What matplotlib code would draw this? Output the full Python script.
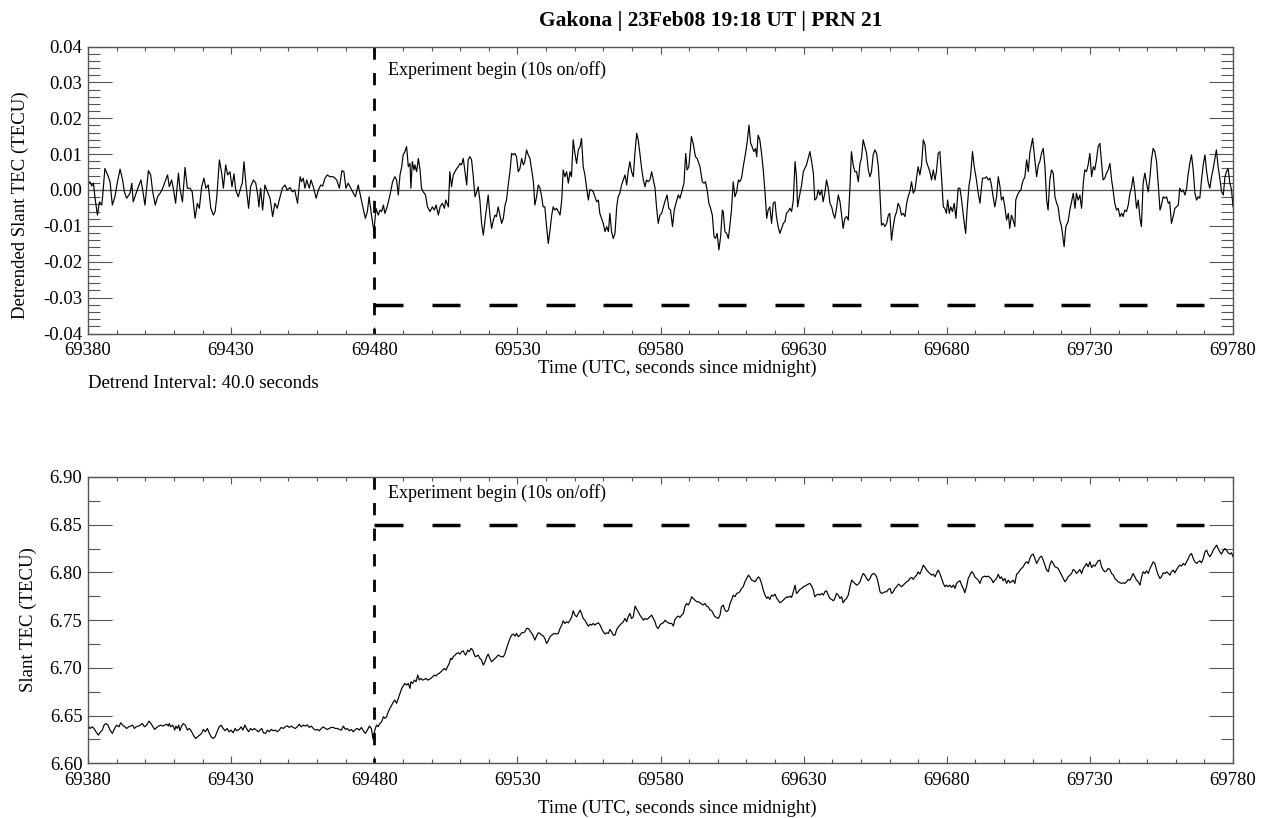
import numpy as np
import matplotlib
matplotlib.use("Agg")
from matplotlib import pyplot as plt
from matplotlib.ticker import MultipleLocator, FormatStrFormatter

plt.rcParams['font.family'] = ['Liberation Serif', 'DejaVu Serif']
plt.rcParams['axes.unicode_minus'] = False

# detrended slant TEC (time s since midnight, TECU), before the heater starts
detrend_pre = [
    (69380.0, 0.0019), (69380.7, 0.0023), (69381.3, 0.0011), (69381.9, 0.0019), (69382.4, -0.0019),
    (69383.3, -0.0070), (69384.0, -0.0033), (69384.8, -0.0042), (69385.1, -0.0019), (69385.9, 0.0060),
    (69387.1, 0.0037), (69387.7, 0.0023), (69388.5, -0.0042), (69389.4, -0.0019), (69390.2, 0.0019),
    (69391.2, 0.0058), (69392.1, 0.0028), (69392.7, -0.0005), (69393.5, -0.0023), (69394.7, -0.0009),
    (69395.3, 0.0019), (69395.8, -0.0033), (69396.8, -0.0009), (69397.6, 0.0009), (69398.5, 0.0028),
    (69399.1, 0.0000), (69399.9, -0.0042), (69401.1, 0.0054), (69401.9, 0.0042), (69402.6, -0.0005),
    (69403.5, -0.0042), (69404.3, -0.0019), (69405.2, -0.0009), (69406.1, 0.0005), (69406.9, 0.0023),
    (69407.8, 0.0042), (69408.4, 0.0009), (69409.2, 0.0028), (69409.8, 0.0005), (69410.6, -0.0037),
    (69411.6, 0.0047), (69412.1, 0.0005), (69413.0, -0.0033), (69413.9, 0.0063), (69414.7, 0.0005),
    (69415.6, 0.0005), (69416.4, -0.0005), (69417.4, -0.0079), (69418.2, -0.0037), (69418.9, -0.0051),
    (69419.7, 0.0009), (69420.5, 0.0033), (69421.2, 0.0005), (69422.0, 0.0014), (69422.9, -0.0051),
    (69423.8, -0.0070), (69424.4, -0.0060), (69425.0, -0.0019), (69425.9, 0.0084), (69426.7, 0.0047),
    (69427.3, 0.0005), (69428.1, 0.0070), (69428.8, 0.0042), (69429.6, 0.0051), (69430.3, 0.0009),
    (69431.0, 0.0045), (69431.6, 0.0000), (69432.5, -0.0019), (69433.3, 0.0005), (69433.9, 0.0019),
    (69434.5, 0.0079), (69435.2, 0.0014), (69436.1, -0.0051), (69436.8, 0.0009), (69437.8, 0.0028),
    (69438.6, 0.0019), (69439.3, -0.0014), (69439.7, -0.0047), (69440.3, 0.0005), (69441.0, -0.0056),
    (69441.8, 0.0014), (69442.7, -0.0005), (69443.6, -0.0023), (69444.5, -0.0074), (69445.3, -0.0037),
    (69446.1, -0.0051), (69447.1, -0.0019), (69447.9, 0.0005), (69448.8, 0.0014), (69449.6, 0.0000),
    (69450.6, 0.0007), (69451.4, -0.0005), (69452.2, 0.0000), (69453.2, -0.0037), (69454.1, 0.0037),
    (69454.6, 0.0023), (69455.2, 0.0033), (69455.8, 0.0005), (69456.4, 0.0028), (69457.3, 0.0005),
    (69457.9, 0.0028), (69458.7, 0.0009), (69459.7, -0.0023), (69460.5, 0.0000), (69461.3, 0.0014),
    (69462.0, 0.0011), (69462.8, 0.0033), (69463.6, 0.0042), (69464.5, 0.0037), (69465.7, 0.0037),
    (69466.9, 0.0028), (69467.8, 0.0005), (69468.7, 0.0054), (69469.4, 0.0051), (69470.1, 0.0005),
    (69470.9, 0.0019), (69471.8, 0.0005), (69472.7, -0.0009), (69473.4, -0.0019), (69474.4, 0.0014),
    (69475.0, -0.0009), (69476.0, -0.0047), (69476.9, -0.0079), (69477.6, -0.0060), (69478.2, -0.0019),
    (69479.1, -0.0074), (69479.9, -0.0116), (69480.6, -0.0051), (69481.4, -0.0070), (69482.0, -0.0056),
]

# detrended slant TEC during the 10 s on / 10 s off heating
detrend_on = [
    (69482.6, -0.0060), (69483.2, -0.0042), (69483.7, -0.0065), (69484.5, -0.0047), (69485.5, -0.0014),
    (69486.4, 0.0023), (69487.2, 0.0037), (69487.8, 0.0028), (69488.4, -0.0014), (69489.0, 0.0042),
    (69489.6, 0.0065), (69490.1, 0.0098), (69490.7, 0.0107), (69491.3, 0.0121), (69491.9, 0.0065),
    (69492.5, 0.0074), (69492.8, 0.0005), (69493.3, 0.0079), (69493.9, 0.0056), (69494.2, 0.0070),
    (69494.8, 0.0051), (69495.4, 0.0088), (69496.0, 0.0056), (69496.5, 0.0005), (69497.1, -0.0005),
    (69497.9, -0.0014), (69498.6, -0.0047), (69499.5, -0.0060), (69500.3, -0.0047), (69501.0, -0.0056),
    (69501.6, -0.0042), (69502.4, -0.0070), (69503.0, -0.0047), (69503.8, -0.0037), (69504.5, -0.0051),
    (69505.0, -0.0028), (69505.9, -0.0047), (69506.4, 0.0051), (69507.0, 0.0009), (69507.6, 0.0042),
    (69508.2, 0.0051), (69508.8, 0.0060), (69509.4, 0.0065), (69509.9, 0.0074), (69510.5, 0.0070),
    (69511.1, 0.0088), (69511.7, 0.0051), (69512.3, 0.0014), (69512.8, 0.0084), (69513.4, 0.0093),
    (69514.0, 0.0084), (69514.6, 0.0037), (69515.2, -0.0019), (69515.8, -0.0005), (69516.3, 0.0009),
    (69516.9, -0.0028), (69517.5, -0.0093), (69518.1, -0.0126), (69518.7, -0.0084), (69519.3, -0.0047),
    (69519.8, -0.0014), (69520.4, -0.0070), (69521.0, -0.0107), (69521.6, -0.0084), (69522.2, -0.0070),
    (69522.7, -0.0074), (69523.3, -0.0047), (69523.9, -0.0070), (69524.5, -0.0093), (69525.1, -0.0079),
    (69525.7, -0.0042), (69526.2, -0.0028), (69526.8, 0.0014), (69527.4, 0.0051), (69528.0, 0.0102),
    (69528.6, 0.0098), (69529.1, 0.0102), (69529.7, 0.0093), (69530.3, 0.0051), (69530.9, 0.0060),
    (69531.5, 0.0088), (69532.1, 0.0070), (69532.6, 0.0079), (69533.2, 0.0112), (69533.8, 0.0098),
    (69534.4, 0.0088), (69535.0, 0.0056), (69535.6, 0.0023), (69536.1, -0.0042), (69536.7, -0.0019),
    (69537.3, 0.0014), (69537.9, 0.0005), (69538.5, -0.0019), (69539.0, -0.0047), (69539.6, -0.0047),
    (69540.2, -0.0102), (69540.8, -0.0149), (69541.4, -0.0112), (69542.0, -0.0070), (69542.5, -0.0047),
    (69543.1, -0.0056), (69543.7, -0.0051), (69544.3, -0.0060), (69544.9, -0.0070), (69545.5, -0.0028),
    (69546.0, 0.0056), (69546.6, 0.0037), (69547.2, 0.0051), (69547.8, 0.0019), (69548.4, 0.0051),
    (69548.9, 0.0037), (69549.5, 0.0140), (69550.1, 0.0102), (69550.7, 0.0074), (69551.3, 0.0112),
    (69551.9, 0.0121), (69552.4, 0.0144), (69553.0, 0.0065), (69553.6, 0.0042), (69554.2, 0.0005),
    (69554.8, -0.0028), (69555.3, 0.0000), (69555.9, 0.0000), (69556.5, -0.0005), (69557.1, -0.0019),
    (69557.7, -0.0033), (69558.3, -0.0028), (69558.8, -0.0065), (69559.4, -0.0079), (69560.0, -0.0093),
    (69560.6, -0.0116), (69561.2, -0.0102), (69561.8, -0.0116), (69562.3, -0.0065), (69562.9, -0.0116),
    (69563.5, -0.0135), (69564.1, -0.0121), (69564.7, -0.0047), (69565.2, -0.0019), (69565.8, -0.0009),
    (69566.4, 0.0014), (69567.0, 0.0028), (69567.6, 0.0042), (69568.2, 0.0014), (69568.7, 0.0051),
    (69569.3, 0.0079), (69569.9, 0.0051), (69570.5, 0.0037), (69571.1, 0.0107), (69571.7, 0.0158),
    (69572.2, 0.0140), (69572.8, 0.0102), (69573.4, 0.0060), (69574.0, 0.0028), (69574.6, 0.0009),
    (69575.1, 0.0028), (69575.7, 0.0023), (69576.3, 0.0028), (69576.9, 0.0051), (69577.5, 0.0028),
    (69578.1, 0.0005), (69578.6, -0.0047), (69579.2, -0.0093), (69579.8, -0.0070), (69580.4, -0.0065),
    (69581.0, -0.0047), (69581.5, -0.0033), (69582.3, -0.0014), (69582.9, -0.0051), (69583.5, -0.0056),
    (69584.2, -0.0102), (69584.8, -0.0056), (69585.4, -0.0037), (69586.2, -0.0014), (69586.8, -0.0023),
    (69587.6, 0.0000), (69588.2, 0.0019), (69588.8, 0.0102), (69589.3, 0.0056), (69589.9, 0.0065),
    (69590.8, 0.0149), (69591.4, 0.0130), (69592.2, 0.0093), (69592.8, 0.0088), (69593.8, 0.0065),
    (69594.6, 0.0023), (69595.2, 0.0019), (69595.7, 0.0023), (69596.3, 0.0000), (69596.9, -0.0037),
    (69597.5, -0.0051), (69598.1, -0.0070), (69598.7, -0.0130), (69599.2, -0.0135), (69599.8, -0.0121),
    (69600.4, -0.0167), (69601.0, -0.0130), (69601.6, -0.0056), (69601.9, -0.0060), (69602.5, -0.0116),
    (69603.1, -0.0121), (69603.7, -0.0135), (69604.2, -0.0102), (69604.8, -0.0056), (69605.4, 0.0023),
    (69606.0, -0.0019), (69606.6, -0.0005), (69607.2, 0.0028), (69607.7, 0.0023), (69608.3, 0.0033),
    (69608.9, 0.0065), (69609.7, 0.0102), (69610.3, 0.0135), (69610.9, 0.0181), (69611.5, 0.0130),
    (69612.0, 0.0121), (69612.6, 0.0107), (69613.2, 0.0116), (69613.6, 0.0093), (69614.1, 0.0153),
    (69614.7, 0.0140), (69615.3, 0.0102), (69615.9, 0.0056), (69616.5, -0.0005), (69617.1, -0.0079),
    (69617.6, -0.0056), (69618.2, -0.0047), (69618.8, -0.0093), (69619.4, -0.0037), (69620.0, -0.0033),
    (69620.5, -0.0074), (69621.1, -0.0102), (69621.7, -0.0121), (69622.3, -0.0107), (69622.9, -0.0093),
    (69623.5, -0.0088), (69624.0, -0.0065), (69624.6, -0.0060), (69625.2, -0.0051), (69625.8, -0.0060),
    (69626.4, -0.0028), (69627.0, 0.0079), (69627.5, 0.0037), (69627.9, -0.0047), (69628.5, -0.0019),
    (69629.3, 0.0014), (69629.9, 0.0051), (69630.4, 0.0060), (69631.0, 0.0070), (69631.6, 0.0088),
    (69632.2, 0.0107), (69632.8, 0.0079), (69633.4, 0.0047), (69633.9, -0.0028), (69634.5, -0.0023),
    (69635.1, 0.0000), (69635.7, -0.0014), (69636.3, 0.0000), (69636.8, -0.0033), (69637.4, -0.0009),
    (69638.0, 0.0028), (69638.6, 0.0005), (69639.2, -0.0037), (69639.8, -0.0047), (69640.3, -0.0065),
    (69640.9, -0.0079), (69641.5, -0.0051), (69642.1, -0.0014), (69642.7, -0.0033), (69643.2, -0.0065),
    (69643.8, -0.0107), (69644.4, -0.0079), (69645.0, -0.0074), (69645.6, -0.0084), (69646.2, 0.0009),
    (69646.7, 0.0107), (69647.3, 0.0070), (69647.9, 0.0051), (69648.5, 0.0051), (69649.1, 0.0023),
    (69649.7, 0.0074), (69650.2, 0.0088), (69650.8, 0.0140), (69651.4, 0.0121), (69652.0, 0.0102),
    (69652.6, 0.0056), (69653.2, 0.0037), (69653.7, 0.0051), (69654.3, 0.0098), (69654.9, 0.0112),
    (69655.5, 0.0102), (69656.1, 0.0065), (69656.6, 0.0000), (69657.2, -0.0098), (69657.8, -0.0093),
    (69658.4, -0.0102), (69659.0, -0.0093), (69659.6, -0.0070), (69660.1, -0.0065), (69660.7, -0.0140),
    (69661.3, -0.0102), (69661.9, -0.0074), (69662.5, -0.0060), (69663.0, -0.0037), (69663.6, -0.0047),
    (69664.2, -0.0070), (69664.8, -0.0065), (69665.4, -0.0074), (69666.0, -0.0037), (69666.5, -0.0019),
    (69667.1, -0.0005), (69667.7, 0.0023), (69668.3, -0.0009), (69668.9, 0.0000), (69669.5, 0.0037),
    (69670.0, 0.0065), (69670.6, 0.0042), (69671.2, 0.0070), (69671.8, 0.0140), (69672.4, 0.0126),
    (69672.9, 0.0079), (69673.5, 0.0065), (69674.1, 0.0051), (69674.7, 0.0028), (69675.3, 0.0056),
    (69675.9, 0.0028), (69676.4, 0.0051), (69677.0, 0.0102), (69677.6, 0.0107), (69678.2, 0.0033),
    (69678.8, -0.0047), (69679.3, -0.0051), (69679.9, -0.0065), (69680.3, -0.0028), (69680.9, -0.0065),
    (69681.4, -0.0047), (69682.0, -0.0060), (69682.6, -0.0037), (69683.2, -0.0079), (69684.0, 0.0005),
    (69684.6, 0.0005), (69685.2, -0.0028), (69685.7, -0.0065), (69686.6, -0.0121), (69687.1, -0.0056),
    (69687.8, 0.0014), (69688.3, 0.0037), (69689.0, 0.0107), (69689.6, 0.0065), (69690.2, 0.0037),
    (69691.0, -0.0009), (69691.6, -0.0037), (69692.1, 0.0005), (69692.5, 0.0033), (69693.3, 0.0033),
    (69693.9, 0.0037), (69694.5, 0.0028), (69695.1, 0.0033), (69695.6, 0.0014), (69696.2, -0.0019),
    (69696.8, -0.0047), (69697.4, -0.0019), (69698.0, 0.0037), (69698.6, 0.0009), (69699.1, -0.0028),
    (69699.7, -0.0019), (69700.3, -0.0047), (69700.9, -0.0084), (69701.5, -0.0065), (69702.0, -0.0107),
    (69702.6, -0.0070), (69703.2, -0.0084), (69703.8, -0.0102), (69704.1, -0.0028), (69704.7, -0.0014),
    (69705.3, -0.0005), (69705.9, 0.0000), (69706.5, 0.0023), (69707.3, 0.0037), (69707.9, 0.0084),
    (69708.5, 0.0051), (69709.0, 0.0102), (69710.0, 0.0144), (69710.8, 0.0084), (69711.4, 0.0037),
    (69712.0, 0.0070), (69712.5, 0.0079), (69713.1, 0.0102), (69713.7, 0.0116), (69714.3, 0.0065),
    (69714.9, -0.0028), (69715.4, -0.0056), (69716.0, 0.0028), (69716.6, 0.0056), (69717.2, 0.0047),
    (69717.8, -0.0019), (69718.4, -0.0037), (69718.9, -0.0047), (69719.5, -0.0084), (69720.1, -0.0102),
    (69720.7, -0.0140), (69721.0, -0.0158), (69721.6, -0.0102), (69722.4, -0.0088), (69723.0, -0.0056),
    (69723.6, -0.0033), (69724.2, -0.0009), (69724.8, -0.0051), (69725.3, -0.0009), (69725.9, -0.0028),
    (69726.5, -0.0014), (69727.1, -0.0051), (69727.7, 0.0019), (69728.2, 0.0056), (69728.8, 0.0051),
    (69729.4, 0.0070), (69730.0, 0.0102), (69730.6, 0.0037), (69731.2, 0.0065), (69731.7, 0.0056),
    (69732.3, 0.0084), (69732.9, 0.0121), (69733.5, 0.0130), (69734.1, 0.0074), (69734.6, 0.0028),
    (69735.2, 0.0033), (69735.8, 0.0047), (69736.4, 0.0056), (69737.0, 0.0074), (69737.6, 0.0028),
    (69738.1, 0.0000), (69738.7, -0.0037), (69739.3, -0.0056), (69739.9, -0.0051), (69740.5, -0.0074),
    (69741.1, -0.0065), (69741.6, -0.0074), (69742.2, -0.0056), (69742.8, -0.0060), (69743.4, -0.0042),
    (69744.0, -0.0009), (69744.6, 0.0009), (69745.1, 0.0037), (69745.7, 0.0000), (69746.3, -0.0051),
    (69746.9, -0.0028), (69747.5, -0.0079), (69748.0, -0.0102), (69748.6, 0.0019), (69749.2, 0.0047),
    (69749.8, 0.0019), (69750.4, -0.0005), (69751.0, 0.0037), (69751.5, 0.0084), (69752.1, 0.0116),
    (69752.7, 0.0107), (69753.3, 0.0079), (69753.9, 0.0014), (69754.5, -0.0056), (69755.0, -0.0042),
    (69755.6, -0.0019), (69756.2, -0.0023), (69756.8, -0.0019), (69757.4, -0.0037), (69757.9, -0.0033),
    (69758.5, -0.0093), (69759.1, -0.0074), (69759.7, -0.0051), (69760.3, -0.0047), (69760.9, -0.0042),
    (69761.4, 0.0005), (69762.0, -0.0005), (69762.6, 0.0000), (69763.2, -0.0014), (69763.8, 0.0005),
    (69764.3, 0.0042), (69764.9, 0.0074), (69765.5, 0.0098), (69766.1, 0.0056), (69766.7, -0.0009),
    (69767.3, -0.0028), (69767.8, -0.0019), (69768.4, -0.0023), (69769.0, 0.0028), (69769.6, 0.0070),
    (69770.2, 0.0098), (69770.8, 0.0051), (69771.3, 0.0023), (69771.9, 0.0005), (69772.5, 0.0037),
    (69773.1, 0.0060), (69773.7, 0.0088), (69774.2, 0.0112), (69774.8, 0.0065), (69775.4, 0.0033),
    (69776.0, -0.0005), (69776.6, -0.0014), (69777.2, 0.0037), (69777.7, 0.0051), (69778.3, 0.0060),
    (69778.9, 0.0019), (69779.5, 0.0000), (69780.0, -0.0047),
]

# slant TEC before the heater starts
slant_pre = [
    (69380.0, 6.6400), (69380.7, 6.6365), (69381.5, 6.6382), (69382.1, 6.6365), (69382.8, 6.6330),
    (69383.6, 6.6295), (69384.4, 6.6330), (69385.0, 6.6348), (69385.6, 6.6400), (69386.3, 6.6417),
    (69387.0, 6.6400), (69387.7, 6.6348), (69388.5, 6.6313), (69389.3, 6.6365), (69390.0, 6.6400),
    (69390.8, 6.6382), (69391.4, 6.6424), (69392.1, 6.6400), (69392.9, 6.6382), (69393.5, 6.6365),
    (69394.2, 6.6382), (69394.9, 6.6390), (69395.6, 6.6400), (69396.2, 6.6365), (69396.8, 6.6382),
    (69397.6, 6.6390), (69398.3, 6.6400), (69399.0, 6.6417), (69399.7, 6.6382), (69400.5, 6.6400),
    (69401.3, 6.6442), (69402.0, 6.6417), (69402.7, 6.6382), (69403.3, 6.6355), (69404.0, 6.6376),
    (69404.7, 6.6390), (69405.4, 6.6400), (69406.1, 6.6390), (69406.8, 6.6400), (69407.5, 6.6410),
    (69408.1, 6.6390), (69408.4, 6.6417), (69408.9, 6.6382), (69409.6, 6.6400), (69410.3, 6.6348),
    (69410.7, 6.6390), (69411.2, 6.6365), (69411.7, 6.6400), (69412.1, 6.6341), (69412.7, 6.6390),
    (69413.3, 6.6417), (69414.0, 6.6400), (69414.7, 6.6348), (69415.4, 6.6365), (69416.1, 6.6337),
    (69416.8, 6.6295), (69417.6, 6.6260), (69418.3, 6.6278), (69419.0, 6.6295), (69419.7, 6.6313),
    (69420.3, 6.6355), (69421.0, 6.6330), (69421.7, 6.6365), (69422.4, 6.6313), (69423.0, 6.6278),
    (69423.7, 6.6260), (69424.4, 6.6278), (69425.1, 6.6330), (69425.8, 6.6382), (69426.5, 6.6400),
    (69427.2, 6.6365), (69427.9, 6.6341), (69428.6, 6.6365), (69429.3, 6.6330), (69430.0, 6.6348),
    (69430.7, 6.6320), (69431.4, 6.6365), (69431.9, 6.6341), (69432.8, 6.6355), (69433.5, 6.6382),
    (69434.1, 6.6348), (69434.8, 6.6400), (69435.4, 6.6365), (69436.1, 6.6330), (69436.8, 6.6365),
    (69437.4, 6.6348), (69438.1, 6.6365), (69438.8, 6.6348), (69439.5, 6.6330), (69440.1, 6.6348),
    (69440.7, 6.6365), (69441.3, 6.6320), (69442.0, 6.6313), (69442.7, 6.6348), (69443.3, 6.6330),
    (69444.0, 6.6355), (69444.7, 6.6341), (69445.4, 6.6348), (69446.1, 6.6330), (69446.8, 6.6348),
    (69447.5, 6.6376), (69448.2, 6.6365), (69448.9, 6.6382), (69449.6, 6.6393), (69450.3, 6.6376),
    (69451.0, 6.6390), (69451.7, 6.6376), (69452.4, 6.6365), (69453.1, 6.6382), (69453.8, 6.6410),
    (69454.5, 6.6382), (69455.2, 6.6400), (69455.9, 6.6390), (69456.6, 6.6403), (69457.3, 6.6376),
    (69458.0, 6.6390), (69458.7, 6.6365), (69459.4, 6.6348), (69460.1, 6.6355), (69460.8, 6.6341),
    (69461.5, 6.6365), (69462.2, 6.6382), (69462.9, 6.6365), (69463.6, 6.6355), (69464.3, 6.6365),
    (69465.0, 6.6376), (69465.7, 6.6376), (69466.4, 6.6365), (69467.1, 6.6365), (69467.8, 6.6355),
    (69468.5, 6.6348), (69469.2, 6.6390), (69469.9, 6.6355), (69470.6, 6.6365), (69471.3, 6.6341),
    (69472.0, 6.6355), (69472.7, 6.6330), (69473.4, 6.6355), (69474.1, 6.6365), (69474.8, 6.6348),
    (69475.5, 6.6376), (69476.2, 6.6341), (69476.9, 6.6313), (69477.6, 6.6348), (69478.3, 6.6390),
    (69479.0, 6.6365), (69479.6, 6.6250),
]

# slant TEC during heating
slant_on = [
    (69480.2, 6.6349), (69480.8, 6.6401), (69481.4, 6.6384), (69482.0, 6.6418), (69482.6, 6.6436),
    (69483.2, 6.6488), (69483.7, 6.6471), (69484.3, 6.6488), (69484.9, 6.6541), (69485.5, 6.6576),
    (69486.1, 6.6610), (69486.7, 6.6645), (69487.2, 6.6663), (69487.8, 6.6628), (69488.4, 6.6680),
    (69489.0, 6.6733), (69489.6, 6.6785), (69490.1, 6.6809), (69490.7, 6.6837), (69491.3, 6.6820),
    (69491.9, 6.6837), (69492.5, 6.6785), (69492.8, 6.6855), (69493.4, 6.6837), (69494.0, 6.6872),
    (69494.6, 6.6855), (69495.2, 6.6925), (69495.7, 6.6872), (69496.3, 6.6890), (69496.9, 6.6872),
    (69497.5, 6.6879), (69498.1, 6.6890), (69498.6, 6.6872), (69499.2, 6.6879), (69499.8, 6.6890),
    (69500.4, 6.6907), (69501.0, 6.6925), (69501.6, 6.6914), (69502.1, 6.6935), (69502.7, 6.6942),
    (69503.3, 6.6959), (69503.9, 6.6977), (69504.5, 6.6994), (69505.1, 6.6977), (69505.6, 6.7012),
    (69506.2, 6.7047), (69506.7, 6.7099), (69507.1, 6.7088), (69507.6, 6.7116), (69508.2, 6.7134),
    (69508.8, 6.7151), (69509.4, 6.7158), (69509.9, 6.7144), (69510.5, 6.7169), (69511.1, 6.7179),
    (69511.5, 6.7151), (69511.9, 6.7134), (69512.3, 6.7158), (69512.6, 6.7186), (69513.2, 6.7169),
    (69513.8, 6.7204), (69514.4, 6.7186), (69514.8, 6.7151), (69515.3, 6.7116), (69515.8, 6.7123),
    (69516.3, 6.7134), (69516.9, 6.7099), (69517.5, 6.7081), (69518.1, 6.7029), (69518.7, 6.7064),
    (69519.3, 6.7116), (69519.8, 6.7144), (69520.4, 6.7099), (69521.0, 6.7064), (69521.6, 6.7081),
    (69522.2, 6.7099), (69522.8, 6.7116), (69523.3, 6.7134), (69523.9, 6.7123), (69524.5, 6.7116),
    (69525.1, 6.7116), (69525.7, 6.7151), (69526.2, 6.7204), (69526.8, 6.7256), (69527.4, 6.7308),
    (69528.0, 6.7343), (69528.6, 6.7354), (69529.2, 6.7333), (69529.7, 6.7361), (69530.3, 6.7326),
    (69530.9, 6.7343), (69531.5, 6.7368), (69532.1, 6.7368), (69532.6, 6.7378), (69533.2, 6.7413),
    (69533.8, 6.7413), (69534.4, 6.7389), (69535.0, 6.7361), (69535.6, 6.7333), (69536.1, 6.7291),
    (69536.7, 6.7333), (69537.3, 6.7368), (69537.9, 6.7361), (69538.5, 6.7343), (69539.1, 6.7333),
    (69539.6, 6.7308), (69540.2, 6.7256), (69540.8, 6.7284), (69541.4, 6.7326), (69542.0, 6.7343),
    (69542.5, 6.7354), (69543.1, 6.7361), (69543.7, 6.7354), (69544.3, 6.7361), (69544.9, 6.7413),
    (69545.5, 6.7448), (69546.0, 6.7493), (69546.6, 6.7465), (69547.2, 6.7483), (69547.8, 6.7472),
    (69548.4, 6.7500), (69549.0, 6.7535), (69549.5, 6.7598), (69550.1, 6.7553), (69550.7, 6.7535),
    (69551.3, 6.7570), (69551.9, 6.7605), (69552.4, 6.7570), (69553.0, 6.7518), (69553.6, 6.7500),
    (69554.2, 6.7465), (69554.8, 6.7437), (69555.4, 6.7458), (69555.9, 6.7448), (69556.5, 6.7465),
    (69557.1, 6.7448), (69557.7, 6.7465), (69558.3, 6.7472), (69558.9, 6.7448), (69559.4, 6.7413),
    (69560.0, 6.7378), (69560.6, 6.7354), (69561.2, 6.7368), (69561.8, 6.7361), (69562.3, 6.7403),
    (69562.9, 6.7378), (69563.5, 6.7343), (69564.1, 6.7343), (69564.7, 6.7403), (69565.3, 6.7430),
    (69565.8, 6.7448), (69566.4, 6.7465), (69567.0, 6.7483), (69567.6, 6.7518), (69568.2, 6.7483),
    (69568.7, 6.7535), (69569.3, 6.7570), (69569.9, 6.7518), (69570.5, 6.7535), (69571.1, 6.7647),
    (69571.7, 6.7615), (69572.2, 6.7588), (69572.8, 6.7553), (69573.4, 6.7528), (69574.0, 6.7500),
    (69574.6, 6.7518), (69575.2, 6.7507), (69575.7, 6.7518), (69576.3, 6.7535), (69576.9, 6.7553),
    (69577.5, 6.7518), (69578.1, 6.7483), (69578.6, 6.7430), (69579.2, 6.7413), (69579.8, 6.7448),
    (69580.4, 6.7465), (69581.0, 6.7472), (69581.6, 6.7500), (69582.1, 6.7483), (69582.7, 6.7472),
    (69583.3, 6.7465), (69583.9, 6.7466), (69584.5, 6.7438), (69585.0, 6.7501), (69585.6, 6.7529),
    (69586.2, 6.7543), (69586.8, 6.7529), (69587.4, 6.7553), (69588.0, 6.7571), (69588.5, 6.7640),
    (69589.1, 6.7675), (69589.7, 6.7658), (69590.3, 6.7693), (69590.9, 6.7745), (69591.4, 6.7728),
    (69592.0, 6.7710), (69592.6, 6.7693), (69593.2, 6.7693), (69593.8, 6.7682), (69594.4, 6.7668),
    (69594.9, 6.7658), (69595.5, 6.7675), (69596.1, 6.7647), (69596.7, 6.7640), (69597.3, 6.7606),
    (69597.9, 6.7599), (69598.4, 6.7571), (69599.0, 6.7536), (69599.6, 6.7529), (69600.2, 6.7518),
    (69600.8, 6.7553), (69601.3, 6.7640), (69601.9, 6.7658), (69602.5, 6.7606), (69603.1, 6.7588),
    (69603.7, 6.7606), (69604.3, 6.7675), (69604.8, 6.7710), (69605.4, 6.7763), (69606.0, 6.7745),
    (69606.6, 6.7780), (69607.2, 6.7787), (69607.7, 6.7797), (69608.3, 6.7832), (69608.9, 6.7850),
    (69609.5, 6.7902), (69610.1, 6.7937), (69610.7, 6.7972), (69611.2, 6.7954), (69611.8, 6.7920),
    (69612.4, 6.7913), (69613.0, 6.7902), (69613.6, 6.7927), (69614.2, 6.7954), (69614.7, 6.7937),
    (69615.3, 6.7885), (69615.9, 6.7815), (69616.5, 6.7763), (69617.1, 6.7728), (69617.6, 6.7745),
    (69618.2, 6.7717), (69618.8, 6.7763), (69619.4, 6.7752), (69620.0, 6.7773), (69620.6, 6.7728),
    (69621.1, 6.7710), (69621.7, 6.7682), (69622.3, 6.7693), (69622.9, 6.7710), (69623.5, 6.7728),
    (69624.1, 6.7745), (69624.6, 6.7738), (69625.2, 6.7752), (69625.8, 6.7738), (69626.4, 6.7797),
    (69627.0, 6.7867), (69627.5, 6.7780), (69628.1, 6.7797), (69628.7, 6.7822), (69629.3, 6.7832),
    (69629.9, 6.7850), (69630.5, 6.7857), (69631.0, 6.7867), (69631.6, 6.7878), (69632.2, 6.7885),
    (69632.8, 6.7857), (69633.4, 6.7815), (69633.9, 6.7745), (69634.5, 6.7763), (69635.1, 6.7773),
    (69635.7, 6.7763), (69636.3, 6.7780), (69636.9, 6.7763), (69637.4, 6.7797), (69638.0, 6.7808),
    (69638.6, 6.7763), (69639.2, 6.7728), (69639.8, 6.7717), (69640.4, 6.7703), (69640.9, 6.7728),
    (69641.5, 6.7780), (69642.1, 6.7763), (69642.7, 6.7728), (69643.3, 6.7745), (69643.8, 6.7682),
    (69644.4, 6.7710), (69645.0, 6.7728), (69645.6, 6.7763), (69646.2, 6.7850), (69646.8, 6.7920),
    (69647.3, 6.7902), (69647.9, 6.7885), (69648.5, 6.7867), (69649.1, 6.7878), (69649.7, 6.7902),
    (69650.3, 6.7954), (69650.8, 6.7989), (69651.4, 6.7972), (69652.0, 6.7937), (69652.6, 6.7913),
    (69653.2, 6.7937), (69653.7, 6.7972), (69654.3, 6.7989), (69654.9, 6.7982), (69655.5, 6.7954),
    (69656.1, 6.7885), (69656.7, 6.7797), (69657.2, 6.7780), (69657.8, 6.7787), (69658.4, 6.7797),
    (69659.0, 6.7797), (69659.6, 6.7822), (69660.2, 6.7832), (69660.7, 6.7780), (69661.3, 6.7797),
    (69661.9, 6.7832), (69662.5, 6.7850), (69663.1, 6.7878), (69663.6, 6.7867), (69664.2, 6.7850),
    (69664.8, 6.7867), (69665.4, 6.7885), (69666.0, 6.7902), (69666.6, 6.7913), (69667.1, 6.7937),
    (69667.7, 6.7948), (69668.3, 6.7927), (69668.9, 6.7954), (69669.5, 6.7972), (69670.0, 6.8007),
    (69670.6, 6.7982), (69671.2, 6.8024), (69671.8, 6.8077), (69672.4, 6.8052), (69673.0, 6.8024),
    (69673.5, 6.8007), (69674.1, 6.7989), (69674.7, 6.7972), (69675.3, 6.7982), (69675.9, 6.7954),
    (69676.5, 6.7996), (69677.0, 6.8024), (69677.6, 6.7989), (69678.2, 6.7937), (69678.8, 6.7885),
    (69679.4, 6.7850), (69679.9, 6.7867), (69680.5, 6.7850), (69681.1, 6.7867), (69681.7, 6.7843),
    (69682.3, 6.7867), (69682.9, 6.7832), (69683.4, 6.7885), (69684.0, 6.7902), (69684.6, 6.7913),
    (69685.2, 6.7867), (69685.8, 6.7832), (69686.3, 6.7787), (69686.9, 6.7850), (69687.5, 6.7937),
    (69688.1, 6.7972), (69688.7, 6.8007), (69689.3, 6.7989), (69689.8, 6.7954), (69690.4, 6.7937),
    (69691.0, 6.7919), (69691.6, 6.7885), (69692.2, 6.7937), (69692.7, 6.7954), (69693.3, 6.7961),
    (69693.9, 6.7954), (69694.5, 6.7961), (69695.1, 6.7947), (69695.7, 6.7926), (69696.2, 6.7892),
    (69696.8, 6.7919), (69697.4, 6.7937), (69698.0, 6.7982), (69698.6, 6.7937), (69699.1, 6.7954),
    (69699.7, 6.7912), (69700.3, 6.7937), (69700.9, 6.7885), (69701.5, 6.7919), (69702.1, 6.7892),
    (69702.6, 6.7902), (69703.2, 6.7919), (69703.8, 6.7885), (69704.4, 6.7982), (69705.0, 6.7996),
    (69705.6, 6.8024), (69706.1, 6.8042), (69706.7, 6.8059), (69707.3, 6.8094), (69707.9, 6.8111),
    (69708.5, 6.8094), (69709.0, 6.8146), (69709.6, 6.8181), (69710.2, 6.8192), (69710.8, 6.8146),
    (69711.4, 6.8094), (69712.0, 6.8129), (69712.5, 6.8157), (69713.1, 6.8171), (69713.7, 6.8129),
    (69714.3, 6.8077), (69714.9, 6.8024), (69715.5, 6.8007), (69716.0, 6.8077), (69716.6, 6.8122),
    (69717.2, 6.8094), (69717.8, 6.8059), (69718.4, 6.8052), (69718.9, 6.8042), (69719.5, 6.8007),
    (69720.1, 6.7972), (69720.7, 6.7937), (69721.3, 6.7902), (69721.9, 6.7926), (69722.4, 6.7954),
    (69723.0, 6.7972), (69723.6, 6.7989), (69724.2, 6.8031), (69724.8, 6.8017), (69725.3, 6.7989),
    (69725.9, 6.8007), (69726.5, 6.8031), (69727.1, 6.7989), (69727.7, 6.8042), (69728.3, 6.8066),
    (69728.8, 6.8094), (69729.4, 6.8059), (69730.0, 6.8111), (69730.6, 6.8052), (69731.2, 6.8077),
    (69731.8, 6.8066), (69732.3, 6.8094), (69732.9, 6.8122), (69733.5, 6.8129), (69734.1, 6.8059),
    (69734.7, 6.8024), (69735.2, 6.8007), (69735.8, 6.8017), (69736.4, 6.8042), (69737.0, 6.8031),
    (69737.6, 6.7989), (69738.2, 6.7972), (69738.7, 6.7937), (69739.3, 6.7919), (69739.9, 6.7902),
    (69740.5, 6.7892), (69741.1, 6.7885), (69741.7, 6.7892), (69742.2, 6.7885), (69742.8, 6.7902),
    (69743.4, 6.7926), (69744.0, 6.7919), (69744.6, 6.7954), (69745.1, 6.7989), (69745.7, 6.7954),
    (69746.3, 6.7919), (69746.9, 6.7902), (69747.5, 6.7867), (69748.1, 6.7954), (69748.6, 6.8007),
    (69749.2, 6.7989), (69749.8, 6.8017), (69750.4, 6.7989), (69751.0, 6.8042), (69751.6, 6.8077),
    (69752.1, 6.8111), (69752.7, 6.8094), (69753.3, 6.8024), (69753.9, 6.7972), (69754.5, 6.7937),
    (69755.0, 6.7954), (69755.6, 6.7996), (69756.2, 6.7989), (69756.8, 6.8007), (69757.4, 6.7989),
    (69758.0, 6.7972), (69758.5, 6.8007), (69759.1, 6.8024), (69759.7, 6.7996), (69760.3, 6.8031),
    (69760.9, 6.8059), (69761.4, 6.8077), (69762.0, 6.8066), (69762.6, 6.8094), (69763.2, 6.8077),
    (69763.8, 6.8111), (69764.4, 6.8146), (69764.9, 6.8181), (69765.5, 6.8199), (69766.1, 6.8146),
    (69766.7, 6.8111), (69767.3, 6.8094), (69767.9, 6.8111), (69768.4, 6.8122), (69769.0, 6.8101),
    (69769.6, 6.8146), (69770.2, 6.8216), (69770.8, 6.8234), (69771.3, 6.8192), (69771.9, 6.8164),
    (69772.5, 6.8192), (69773.1, 6.8234), (69773.7, 6.8262), (69774.3, 6.8286), (69774.8, 6.8251),
    (69775.4, 6.8216), (69776.0, 6.8192), (69776.6, 6.8227), (69777.2, 6.8251), (69777.7, 6.8234),
    (69778.3, 6.8206), (69778.9, 6.8192), (69779.5, 6.8206), (69780.0, 6.8164),
]

# heater schedule: 10 s on, 10 s off
exp_begin = 69480
heater_on = [69480, 69500, 69520, 69540, 69560, 69580, 69600, 69620,
             69640, 69660, 69680, 69700, 69720, 69740, 69760]
heater_off = [69490, 69510, 69530, 69550, 69570, 69590, 69610, 69630,
              69650, 69670, 69690, 69710, 69730, 69750, 69770]
heater_mark_top = -0.032
heater_mark_bot = 6.85
detrend_interval = 40.0
time_ticks = [69380, 69430, 69480, 69530, 69580, 69630, 69680, 69730, 69780]

top_t, top_v = np.array(detrend_pre + detrend_on).T
bot_t, bot_v = np.array(slant_pre + slant_on).T

W, H = 1271, 818
fig = plt.figure(figsize=(W / 100, H / 100), dpi=100)

ax1 = fig.add_axes([88 / W, 1 - 333.5 / H, 1145 / W, 287 / H])
ax2 = fig.add_axes([88 / W, 1 - 763.3 / H, 1145 / W, 286.3 / H])

axis_col = '#555555'
for ax in (ax1, ax2):
    for sp in ax.spines.values():
        sp.set_color(axis_col)
        sp.set_linewidth(1.0)
    ax.set_xlim(time_ticks[0], time_ticks[-1])
    ax.set_xticks(time_ticks)
    ax.xaxis.set_minor_locator(MultipleLocator(10))
    ax.tick_params(which='both', direction='in', top=True, right=True,
                   color=axis_col, width=0.8, labelsize=13.5)
    ax.tick_params(axis='x', which='major', length=5, pad=6)
    ax.tick_params(axis='x', which='minor', length=3)
    ax.tick_params(axis='y', which='major', length=17, pad=4)
    ax.tick_params(axis='y', which='minor', length=8.5)

# top panel: detrended slant TEC
ax1.set_ylim(-0.04, 0.04)
ax1.yaxis.set_major_locator(MultipleLocator(0.01))
ax1.yaxis.set_minor_locator(MultipleLocator(0.002))
ax1.yaxis.set_major_formatter(FormatStrFormatter('%.2f'))
ax1.axhline(0, color=axis_col, lw=0.9)
ax1.plot(top_t, top_v, color='black', lw=0.85)
ax1.plot([exp_begin, exp_begin], [0.04, -0.04], color='black', lw=2.0,
         dashes=(4.4, 4.8), dash_capstyle='butt')
ax1.hlines([heater_mark_top] * len(heater_on), heater_on, heater_off,
           color='black', lw=2.5)
ax1.text(exp_begin + 4.8, 0.0335, 'Experiment begin (10s on/off)',
         fontsize=13, va='center', ha='left')

# bottom panel: slant TEC
ax2.set_ylim(6.60, 6.90)
ax2.yaxis.set_major_locator(MultipleLocator(0.05))
ax2.yaxis.set_minor_locator(MultipleLocator(0.025))
ax2.yaxis.set_major_formatter(FormatStrFormatter('%.2f'))
ax2.plot(bot_t, bot_v, color='black', lw=0.85)
ax2.plot([exp_begin, exp_begin], [6.90, 6.60], color='black', lw=2.0,
         dashes=(4.4, 4.8), dash_capstyle='butt')
ax2.hlines([heater_mark_bot] * len(heater_on), heater_on, heater_off,
           color='black', lw=2.5)
ax2.text(exp_begin + 4.8, 6.883, 'Experiment begin (10s on/off)',
         fontsize=13, va='center', ha='left')

# titles and labels
fig.text(711 / W, 1 - 21 / H, 'Gakona | 23Feb08 19:18 UT | PRN 21',
         ha='center', va='center', fontsize=15.5, fontweight='bold')
fig.text(677 / W, 1 - 368 / H, 'Time (UTC, seconds since midnight)',
         ha='center', va='center', fontsize=13.5)
fig.text(88 / W, 1 - 383 / H, f'Detrend Interval: {detrend_interval:.1f} seconds',
         ha='left', va='center', fontsize=13.5)
fig.text(20 / W, 1 - 205 / H, 'Detrended Slant TEC (TECU)',
         ha='center', va='center', rotation=90, fontsize=13.5)
fig.text(28 / W, 1 - 620 / H, 'Slant TEC (TECU)',
         ha='center', va='center', rotation=90, fontsize=13.5)
fig.text(677 / W, 1 - 808 / H, 'Time (UTC, seconds since midnight)',
         ha='center', va='center', fontsize=13.5)

fig.savefig('out.png', dpi=100)
